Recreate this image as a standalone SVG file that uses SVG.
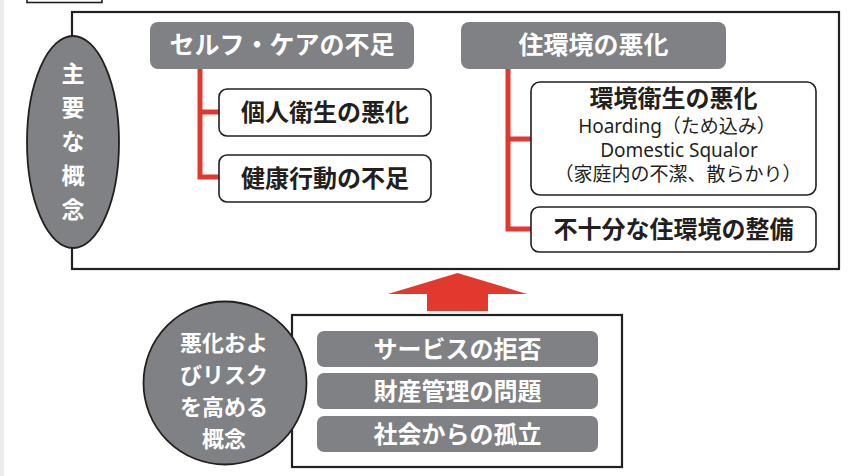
<svg xmlns="http://www.w3.org/2000/svg" width="857" height="476" viewBox="0 0 857 476">
<style>
.frame{fill:#fff;stroke:#231f20;stroke-width:2.2}
.gray{fill:#808184}
.gnode{fill:#808184;stroke:#231f20;stroke-width:1.8}
.wbox{fill:#fff;stroke:#231f20;stroke-width:1.6}
.red{fill:none;stroke:#e1392d;stroke-width:5}
.wt{fill:#fff;font-family:"Noto Sans CJK JP","Noto Sans",sans-serif;font-weight:bold;text-anchor:middle}
.bt{fill:#231f20;font-family:"Noto Sans CJK JP","Noto Sans",sans-serif;font-weight:bold;text-anchor:middle;font-size:24px}
.nt{fill:#231f20;font-family:"Noto Sans","Noto Sans CJK JP",sans-serif;text-anchor:middle;font-size:19px}
</style>
<rect x="0" y="0" width="857" height="476" fill="#fff"/>
<rect x="0" y="0" width="4" height="476" fill="#ebebeb"/>
<rect x="27" y="-10" width="75" height="12.5" class="wbox"/>
<g id="main-frame">
<rect x="72" y="12" width="767" height="257" class="frame"/>
</g>
<g id="connectors">
<polyline class="red" points="200,69 200,177 219,177"/>
<line class="red" x1="200" y1="112" x2="219" y2="112"/>
<polyline class="red" points="508,69 508,229 531,229"/>
<line class="red" x1="508" y1="139" x2="531" y2="139"/>
<polygon points="388,294 457.5,273 527,294 488,294 488,311 427,311 427,294" fill="#e1392d"/>
</g>
<g id="main-concept">
<ellipse cx="73" cy="142" rx="46" ry="106" class="gnode"/>
<text class="wt" font-size="23" x="73" y="82">主</text>
<text class="wt" font-size="23" x="73" y="116">要</text>
<text class="wt" font-size="23" x="73" y="150">な</text>
<text class="wt" font-size="23" x="73" y="184">概</text>
<text class="wt" font-size="23" x="73" y="218">念</text>
</g>
<g id="self-care">
<rect x="150" y="22" width="264" height="47" rx="8" class="gray"/>
<text class="wt" font-size="25" x="282" y="54">セルフ・ケアの不足</text>
</g>
<g id="personal-hygiene">
<rect x="219" y="89" width="212" height="47" rx="8" class="wbox"/>
<text class="bt" x="325" y="121">個人衛生の悪化</text>
</g>
<g id="health-behavior">
<rect x="219" y="155" width="212" height="47" rx="8" class="wbox"/>
<text class="bt" x="325" y="187">健康行動の不足</text>
</g>
<g id="living-env">
<rect x="461" y="22" width="265" height="47" rx="8" class="gray"/>
<text class="wt" font-size="25" x="593.5" y="54">住環境の悪化</text>
</g>
<g id="env-hygiene">
<rect x="531" y="82" width="285" height="113" rx="9" class="wbox"/>
<text class="bt" x="673.5" y="107">環境衛生の悪化</text>
<text class="nt" x="677" y="133">Hoarding（ため込み）</text>
<text class="nt" x="679" y="157">Domestic Squalor</text>
<text class="nt" x="678" y="181" font-size="17.5">（家庭内の不潔、散らかり）</text>
</g>
<g id="insufficient-env">
<rect x="531" y="207" width="285" height="45" rx="8" class="wbox"/>
<text class="bt" x="673.5" y="238">不十分な住環境の整備</text>
</g>
<g id="risk-frame">
<rect x="292" y="315" width="330" height="152" class="frame"/>
</g>
<g id="service-refusal">
<rect x="317" y="331" width="281" height="36" rx="7" class="gray"/>
<text class="wt" font-size="24" x="457.5" y="358">サービスの拒否</text>
</g>
<g id="property-mgmt">
<rect x="317" y="373" width="281" height="36" rx="7" class="gray"/>
<text class="wt" font-size="24" x="457.5" y="400">財産管理の問題</text>
</g>
<g id="social-isolation">
<rect x="317" y="416" width="281" height="36" rx="7" class="gray"/>
<text class="wt" font-size="24" x="457.5" y="443">社会からの孤立</text>
</g>
<g id="risk-concept">
<circle cx="225" cy="383" r="81.5" class="gnode"/>
<text class="wt" font-size="22" x="224" y="351">悪化およ</text>
<text class="wt" font-size="22" x="224" y="383">びリスク</text>
<text class="wt" font-size="22" x="224" y="415">を高める</text>
<text class="wt" font-size="22" x="224" y="447">概念</text>
</g>
</svg>
